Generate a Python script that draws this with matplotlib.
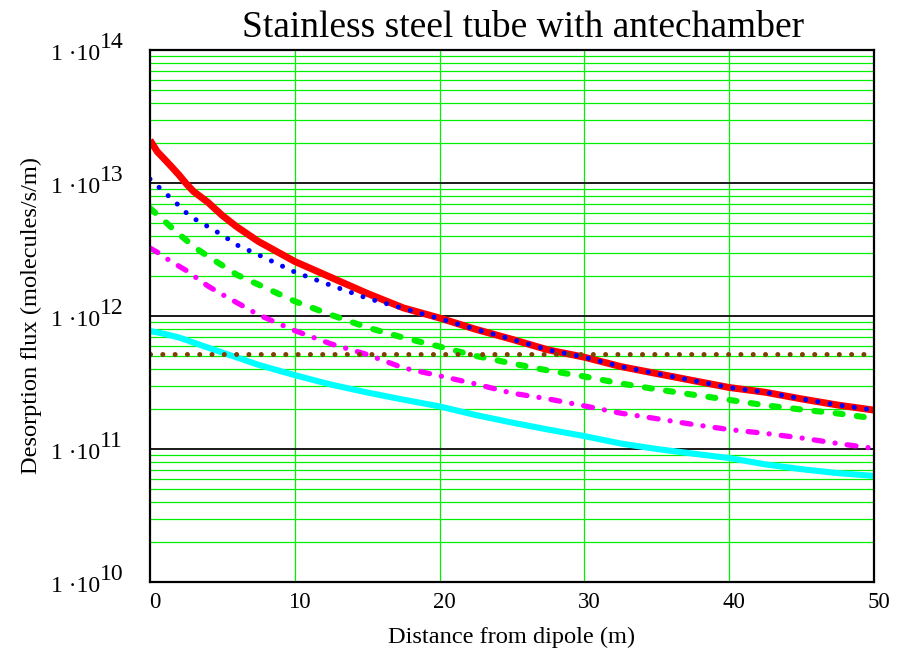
import matplotlib
matplotlib.use("Agg")
import matplotlib.pyplot as plt
import matplotlib.transforms as mtransforms
from matplotlib.ticker import NullLocator

plt.rcParams['font.family'] = ['Liberation Serif', 'DejaVu Serif']

# ---- data ----
x = [0, 0.5, 1, 1.5, 2, 2.5, 3, 4, 5, 6, 7.5, 10, 12.5, 15, 17.5, 20, 22.5,
     25, 27.5, 30, 32.5, 35, 37.5, 40, 42.5, 45, 47.5, 50]
red = [2.10e13, 1.72e13, 1.51e13, 1.32e13, 1.15e13, 9.89e12, 8.65e12, 7.16e12,
       5.69e12, 4.68e12, 3.63e12, 2.57e12, 1.95e12, 1.48e12, 1.15e12, 9.66e11,
       7.94e11, 6.68e11, 5.56e11, 4.90e11, 4.17e11, 3.69e11, 3.27e11, 2.90e11,
       2.67e11, 2.38e11, 2.14e11, 1.96e11]
blue = [1.07e13, 9.55e12, 8.51e12, 7.59e12, 6.76e12, 5.98e12, 5.43e12, 4.70e12,
        4.06e12, 3.42e12, 2.88e12, 2.14e12, 1.70e12, 1.36e12, 1.14e12, 9.55e11,
        7.94e11, 6.68e11, 5.56e11, 4.90e11, 4.17e11, 3.69e11, 3.27e11, 2.90e11,
        2.67e11, 2.38e11, 2.14e11, 1.96e11]
green = [6.46e12, 5.79e12, 5.18e12, 4.61e12, 4.12e12, 3.72e12, 3.33e12, 2.81e12,
         2.40e12, 2.04e12, 1.72e12, 1.29e12, 1.02e12, 8.20e11, 6.87e11, 5.89e11,
         5.01e11, 4.40e11, 3.89e11, 3.51e11, 3.11e11, 2.81e11, 2.56e11, 2.34e11,
         2.13e11, 1.98e11, 1.85e11, 1.70e11]
magenta = [3.24e12, 3.02e12, 2.77e12, 2.55e12, 2.37e12, 2.20e12, 2.01e12, 1.68e12,
           1.45e12, 1.26e12, 1.02e12, 7.76e11, 6.17e11, 5.13e11, 4.07e11, 3.55e11,
           3.08e11, 2.63e11, 2.38e11, 2.11e11, 1.86e11, 1.69e11, 1.53e11, 1.40e11,
           1.31e11, 1.21e11, 1.10e11, 1.01e11]
cyan = [7.71e11, 7.52e11, 7.33e11, 7.11e11, 6.89e11, 6.61e11, 6.31e11, 5.79e11,
        5.31e11, 4.88e11, 4.29e11, 3.59e11, 3.05e11, 2.66e11, 2.35e11, 2.09e11,
        1.80e11, 1.58e11, 1.40e11, 1.25e11, 1.10e11, 1.00e11, 9.23e10, 8.55e10,
        7.66e10, 7.05e10, 6.59e10, 6.27e10]
brown_x = [0, 50]
brown = [5.2e11, 5.2e11]

xticks = [0, 10, 20, 30, 40, 50]
ydecades = [1e10, 1e11, 1e12, 1e13, 1e14]
yexp = ['10', '11', '12', '13', '14']

title = "Stainless steel tube with antechamber"
xlabel = "Distance from dipole (m)"
ylabel = "Desorption flux (molecules/s/m)"

# ---- figure ----
W, H = 897, 648
fig = plt.figure(figsize=(W / 100, H / 100), dpi=100)
L, R, T, B = 150, 874, 50, 582
ax = fig.add_axes([L / W, 1 - B / H, (R - L) / W, (B - T) / H])
ax.set_yscale('log')
ax.set_xlim(0, 50)
ax.set_ylim(1e10, 1e14)

GRID = '#00f000'
# grid
for d in ydecades[:-1]:
    for k in range(2, 10):
        ax.axhline(d * k, color=GRID, lw=0.9, zorder=1)
for d in ydecades[1:-1]:
    ax.axhline(d, color='#1a1a1a', lw=1.4, zorder=1.5)
for xv in xticks[1:]:
    ax.axvline(xv, color=GRID, lw=0.9, zorder=1)

ax.xaxis.set_major_locator(NullLocator())
ax.xaxis.set_minor_locator(NullLocator())
ax.yaxis.set_major_locator(NullLocator())
ax.yaxis.set_minor_locator(NullLocator())
for s in ax.spines.values():
    s.set_linewidth(1.6)
    s.set_color('black')
    s.set_zorder(5)

# traces
ax.plot(x, red, color='#ff0000', lw=5.0, solid_capstyle='butt', zorder=3)
ax.plot(x, green, color='#00f000', lw=4.4, linestyle=(0, (1.15, 2.35)),
        dash_capstyle='round', zorder=3)
ax.plot(x, magenta, color='#ff00ff', lw=3.8, linestyle=(0, (1.7, 2.3, 0.01, 2.3)),
        dash_capstyle='round', zorder=3)
ax.plot(x, cyan, color='#00ffff', lw=4.4, zorder=3)
ax.plot(x, blue, color='#0000ff', lw=3.6, linestyle=(0, (0.01, 2.45)),
        dash_capstyle='round', zorder=4)
ax.plot(brown_x, brown, color='#804000', lw=3.6, linestyle=(0, (0.01, 2.45)),
        dash_capstyle='round', zorder=4)

# tick labels (Mathcad style: full-size raised exponent)
px = 1 / 100.0
ytr = mtransforms.blended_transform_factory(ax.transAxes, ax.transData)
for d, e in zip(ydecades, yexp):
    t1 = ytr + mtransforms.ScaledTranslation(-50 * px, -10 * px, fig.dpi_scale_trans)
    ax.text(0, d, "1 \u00b710", transform=t1, ha='right', va='baseline',
            fontsize=17, clip_on=False)
    t2 = ytr + mtransforms.ScaledTranslation(-50 * px, 2 * px, fig.dpi_scale_trans)
    ax.text(0, d, e, transform=t2, ha='left', va='baseline',
            fontsize=17, clip_on=False)

xtr = mtransforms.blended_transform_factory(ax.transData, ax.transAxes)
for xv in xticks:
    tt = xtr + mtransforms.ScaledTranslation(5 * px, -26 * px, fig.dpi_scale_trans)
    ax.text(xv, 0, str(xv), transform=tt, ha='center', va='baseline',
            fontsize=16.5, clip_on=False)

fig.text((L + R) / 2 / W, 1 - 643 / H, xlabel, ha='center', va='baseline', fontsize=17.6)
fig.text(31 / W, 1 - 316 / H, ylabel, ha='center', va='center', rotation=90, fontsize=17.6)
fig.text(523 / W, 1 - 37 / H, title, ha='center', va='baseline', fontsize=27)

fig.savefig('out.png', dpi=100)
